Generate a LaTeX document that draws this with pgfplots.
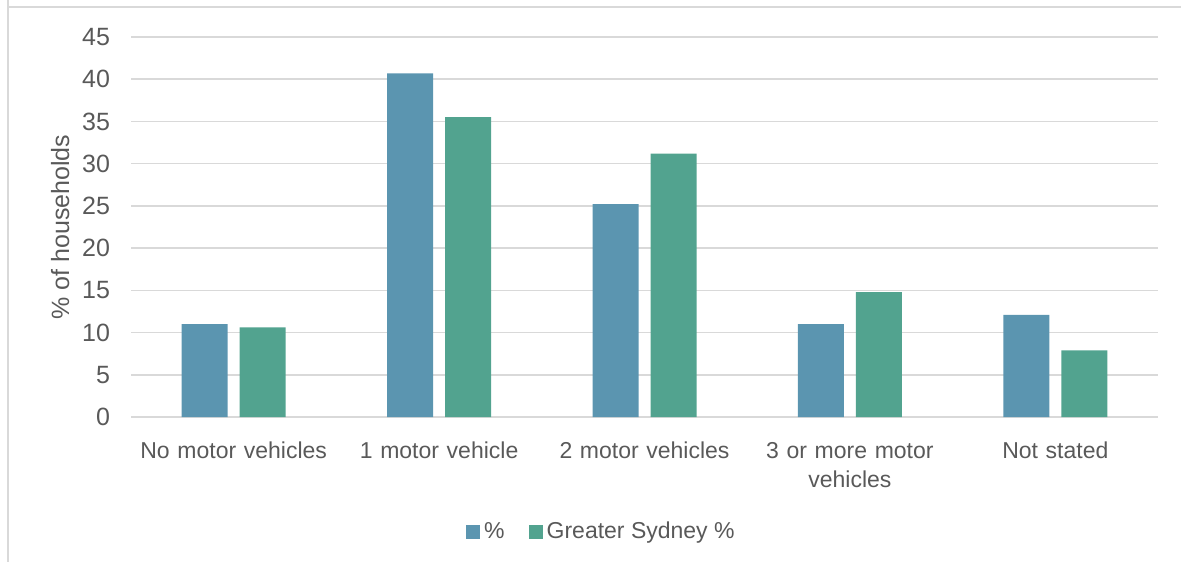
\documentclass[border=0pt]{standalone}
\usepackage{pgfplots}
\pgfplotsset{compat=1.18}
\usepackage{fontspec}
\setmainfont{Liberation Sans}

\definecolor{barblue}{HTML}{5B95B0}
\definecolor{bargreen}{HTML}{52A38F}
\definecolor{gridgray}{HTML}{D9D9D9}
\definecolor{textgray}{HTML}{595959}

\begin{document}
\begin{tikzpicture}[x=1pt,y=1pt]
  \useasboundingbox (0,0) rectangle (590.5,281);
  % outer chart frame (top and left edges visible)
  \draw[gridgray, line width=0.8pt] (4,281) -- (4,277.5) -- (590.5,277.5);
  \draw[gridgray, line width=0.8pt] (4,277.5) -- (4,0);
  \begin{axis}[
    at={(65.5pt,72.5pt)}, anchor=south west,
    scale only axis,
    width=513.5pt, height=190pt,
    ybar=6pt, bar width=23pt,
    xmin=-0.5, xmax=4.5,
    ymin=0, ymax=45,
    ytick={0,5,...,45},
    xtick=data,
    xticklabels={No motor vehicles, 1 motor vehicle, 2 motor vehicles, {3 or more motor\\vehicles}, Not stated},
    xticklabel style={align=center, text width=120pt, font=\fontsize{11.5}{14.5}\selectfont, text=textgray},
    yticklabel style={font=\fontsize{12.5}{14}\selectfont, text=textgray},
    /pgf/number format/assume math mode=true,
    major tick length=0pt,
    ymajorgrids, grid style={gridgray, line width=0.8pt},
    axis x line*=bottom,
    axis y line*=left,
    x axis line style={draw=gridgray, line width=0.8pt},
    y axis line style={draw=none},
    ylabel={\% of households},
    every axis y label/.style={at={(axis description cs:-0.069,0.5)}, rotate=90, anchor=center,
      font=\fontsize{12.5}{14}\selectfont, text=textgray},
    xticklabel shift=9pt,
    yticklabel shift=7pt,
    legend style={at={(axis description cs:0.459,-0.303)}, anchor=center,
      legend columns=2, draw=none, font=\fontsize{11.5}{14}\selectfont, text=textgray,
      /tikz/every even column/.append style={column sep=10pt}},
    legend image code/.code={\fill[#1] (0pt,-3.5pt) rectangle (7pt,3.5pt);},
  ]
    \addplot[fill=barblue, draw=none] coordinates {(0,11.0) (1,40.7) (2,25.2) (3,11.0) (4,12.1)};
    \addplot[fill=bargreen, draw=none] coordinates {(0,10.6) (1,35.5) (2,31.2) (3,14.8) (4,7.9)};
    \legend{\%, Greater Sydney \%}
  \end{axis}
\end{tikzpicture}
\end{document}
